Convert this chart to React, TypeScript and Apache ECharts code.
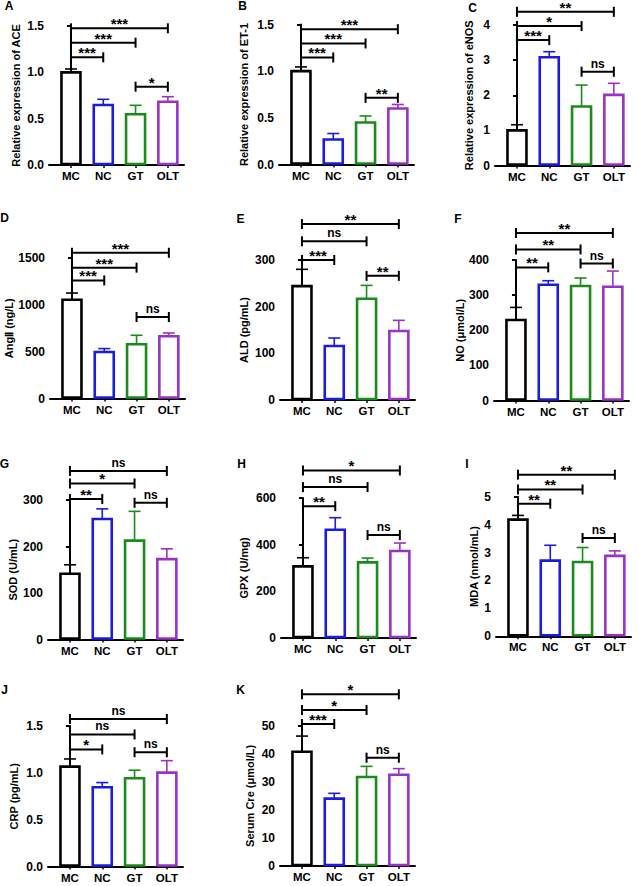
import React, { useEffect, useRef } from "react";
import * as echarts from "echarts";

const categories = ["MC", "NC", "GT", "OLT"];
const groupColors = ["#000000", "#1c1ce0", "#1b8c1b", "#9a32c6"];
const bracketPairs = [[0, 3], [0, 2], [0, 1], [2, 3]];

// A: ACE
const aceMean = [1.0, 0.647, 0.547, 0.683];
const aceSD = [0.036, 0.062, 0.097, 0.054];
const aceBrY = [1.475, 1.32, 1.162, 0.845];
const aceSig = ["***", "***", "***", "*"];
// B: ET-1
const et1Mean = [1.0, 0.268, 0.45, 0.6];
const et1SD = [0.046, 0.064, 0.07, 0.043];
const et1BrY = [1.45, 1.297, 1.147, 0.714];
const et1Sig = ["***", "***", "***", "**"];
// C: eNOS
const enosMean = [1.0, 3.08, 1.68, 2.01];
const enosSD = [0.16, 0.16, 0.61, 0.33];
const enosBrY = [4.375, 3.97, 3.57, 2.67];
const enosSig = ["**", "*", "***", "ns"];
// D: AngII
const angMean = [1055, 497, 579, 665];
const angSD = [71, 36, 96, 35];
const angBrY = [1556, 1397, 1261, 870];
const angSig = ["***", "***", "***", "ns"];
// E: ALD
const aldMean = [244, 115.6, 217, 147.8];
const aldSD = [36, 17.2, 28.6, 22.9];
const aldBrY = [377, 340, 300, 266];
const aldSig = ["**", "ns", "***", "**"];
// F: NO
const noMean = [229, 329.5, 326, 324];
const noSD = [36, 11.5, 22.6, 44.5];
const noBrY = [477, 430, 379, 390];
const noSig = ["**", "**", "**", "ns"];
// G: SOD
const sodMean = [141.3, 259, 212.6, 172.8];
const sodSD = [19.3, 22, 63, 22.2];
const sodBrY = [362.5, 335.5, 302, 294];
const sodSig = ["ns", "*", "**", "ns"];
// H: GPX
const gpxMean = [307, 464, 324, 372.6];
const gpxSD = [37, 51.6, 18.6, 34.4];
const gpxBrY = [718, 646.7, 565, 441];
const gpxSig = ["*", "ns", "**", "ns"];
// I: MDA
const mdaMean = [4.18, 2.71, 2.66, 2.88];
const mdaSD = [0.15, 0.55, 0.52, 0.18];
const mdaBrY = [5.79, 5.26, 4.75, 3.52];
const mdaSig = ["**", "**", "**", "ns"];
// J: CRP
const crpMean = [1.066, 0.846, 0.942, 1.002];
const crpSD = [0.082, 0.05, 0.086, 0.128];
const crpBrY = [1.575, 1.41, 1.25, 1.22];
const crpSig = ["ns", "ns", "*", "ns"];
// K: Serum Cre
const creMean = [40.7, 24.0, 31.7, 32.5];
const creSD = [5.6, 1.9, 3.8, 2.2];
const creBrY = [61.2, 55.6, 50.6, 38.6];
const creSig = ["*", "*", "***", "ns"];

const panels = [
  { letter: "A", title: "Relative expression of ACE", mean: aceMean, sd: aceSD, brY: aceBrY, sig: aceSig, max: 1.5, interval: 0.5, dec: 1 },
  { letter: "B", title: "Relative expression of ET-1", mean: et1Mean, sd: et1SD, brY: et1BrY, sig: et1Sig, max: 1.5, interval: 0.5, dec: 1 },
  { letter: "C", title: "Relative expression of eNOS", mean: enosMean, sd: enosSD, brY: enosBrY, sig: enosSig, max: 4, interval: 1, dec: 0 },
  { letter: "D", title: "AngⅡ (ng/L)", mean: angMean, sd: angSD, brY: angBrY, sig: angSig, max: 1500, interval: 500, dec: 0 },
  { letter: "E", title: "ALD (pg/mL)", mean: aldMean, sd: aldSD, brY: aldBrY, sig: aldSig, max: 300, interval: 100, dec: 0 },
  { letter: "F", title: "NO (μmol/L)", mean: noMean, sd: noSD, brY: noBrY, sig: noSig, max: 400, interval: 100, dec: 0 },
  { letter: "G", title: "SOD (U/mL)", mean: sodMean, sd: sodSD, brY: sodBrY, sig: sodSig, max: 300, interval: 100, dec: 0 },
  { letter: "H", title: "GPX (U/mg)", mean: gpxMean, sd: gpxSD, brY: gpxBrY, sig: gpxSig, max: 600, interval: 200, dec: 0 },
  { letter: "I", title: "MDA (nmol/mL)", mean: mdaMean, sd: mdaSD, brY: mdaBrY, sig: mdaSig, max: 5, interval: 1, dec: 0 },
  { letter: "J", title: "CRP (pg/mL)", mean: crpMean, sd: crpSD, brY: crpBrY, sig: crpSig, max: 1.5, interval: 0.5, dec: 1 },
  { letter: "K", title: "Serum Cre (μmol/L)", mean: creMean, sd: creSD, brY: creBrY, sig: creSig, max: 50, interval: 10, dec: 0 },
];

// layout: axis x, top px (max tick), bottom px (zero), nameGap, letter x, letter y
const layout = [
  { left: 49, top: 26, bottom: 165, gap: 28, lx: 9, ly: 6 },
  { left: 279, top: 24.5, bottom: 164.5, gap: 30, lx: 242.5, ly: 6 },
  { left: 495, top: 25, bottom: 165.5, gap: 21, lx: 472.5, ly: 7.5 },
  { left: 50, top: 258, bottom: 398.5, gap: 34, lx: 4.5, ly: 218 },
  { left: 280, top: 260, bottom: 400, gap: 31, lx: 240.5, ly: 219 },
  { left: 494, top: 260, bottom: 400.5, gap: 25, lx: 458, ly: 218.5 },
  { left: 48, top: 500, bottom: 639.5, gap: 30, lx: 4.5, ly: 464 },
  { left: 281, top: 498, bottom: 638, gap: 32, lx: 241.5, ly: 464 },
  { left: 496, top: 496.7, bottom: 636.3, gap: 17, lx: 467, ly: 464 },
  { left: 48, top: 726, bottom: 866.5, gap: 29, lx: 4.5, ly: 690 },
  { left: 280, top: 725.7, bottom: 866, gap: 25, lx: 240.5, ly: 690 },
];

const FONT = "'Liberation Sans', Arial, Helvetica, sans-serif";
const X_MIN = -0.68;
const X_MAX = 3.5;
const GRID_W = 135;
const BAR_W = 19;

function buildOption() {
  const grid: any[] = [];
  const xAxis: any[] = [];
  const yAxis: any[] = [];
  const series: any[] = [];
  const graphic: any[] = [];

  panels.forEach((p, k) => {
    const L = layout[k];
    grid.push({ left: L.left, top: L.top, width: GRID_W, height: L.bottom - L.top, containLabel: false });
    xAxis.push({
      type: "value",
      gridIndex: k,
      min: X_MIN,
      max: X_MAX,
      splitLine: { show: false },
      axisLine: { show: true, lineStyle: { color: "#000", width: 2 } },
      axisTick: { show: true, customValues: [0, 1, 2, 3], length: 3, lineStyle: { color: "#000", width: 1.5 } },
      axisLabel: {
        show: true,
        customValues: [0, 1, 2, 3],
        formatter: (v: number) => categories[Math.round(v)] ?? "",
        color: "#000",
        fontFamily: FONT,
        fontWeight: "bold",
        fontSize: 11.5,
        margin: 5,
      },
    });
    yAxis.push({
      type: "value",
      gridIndex: k,
      min: 0,
      max: p.max,
      interval: p.interval,
      name: p.title,
      nameLocation: "middle",
      nameGap: L.gap,
      nameTextStyle: { color: "#000", fontFamily: FONT, fontWeight: "bold", fontSize: 11 },
      splitLine: { show: false },
      axisLine: { show: true, lineStyle: { color: "#000", width: 2 } },
      axisTick: { show: true, length: 4, lineStyle: { color: "#000", width: 2 } },
      axisLabel: {
        color: "#000",
        fontFamily: FONT,
        fontWeight: "bold",
        fontSize: 12,
        margin: 5,
        formatter: (v: number) => (p.dec ? v.toFixed(p.dec) : String(v)),
      },
    });

    // bars + error bars (mean, upper SD) drawn through the cartesian coordinate system
    series.push({
      type: "custom",
      name: p.title,
      xAxisIndex: k,
      yAxisIndex: k,
      clip: false,
      z: 3,
      data: p.mean.map((v, i) => [i, v, v + p.sd[i]]),
      renderItem: (params: any, api: any) => {
        const x = api.value(0);
        const m = api.value(1);
        const t = api.value(2);
        const p0 = api.coord([x, m]);
        const p1 = api.coord([x, t]);
        const pz = api.coord([x, 0]);
        const c = groupColors[params.dataIndex];
        return {
          type: "group",
          children: [
            { type: "line", shape: { x1: p0[0], y1: p0[1], x2: p1[0], y2: p1[1] }, style: { stroke: c, lineWidth: 1.6 } },
            { type: "line", shape: { x1: p1[0] - 6, y1: p1[1], x2: p1[0] + 6, y2: p1[1] }, style: { stroke: c, lineWidth: 1.6 } },
            {
              type: "rect",
              shape: { x: p0[0] - BAR_W / 2, y: p0[1], width: BAR_W, height: pz[1] - p0[1] - 1 },
              style: { fill: "#ffffff", stroke: c, lineWidth: 2.6 },
            },
          ],
        };
      },
    });

    series.push({
      type: "custom",
      xAxisIndex: k,
      yAxisIndex: k,
      clip: false,
      z: 4,
      data: bracketPairs.map((pr, j) => [pr[0], pr[1], p.brY[j]]),
      renderItem: (params: any, api: any) => {
        const a = api.coord([api.value(0), api.value(2)]);
        const b = api.coord([api.value(1), api.value(2)]);
        const lab = p.sig[params.dataIndex];
        const stars = lab.indexOf("*") >= 0;
        const mid = (a[0] + b[0]) / 2;
        return {
          type: "group",
          children: [
            { type: "line", shape: { x1: a[0], y1: a[1], x2: b[0], y2: b[1] }, style: { stroke: "#000", lineWidth: 2 } },
            { type: "line", shape: { x1: a[0], y1: a[1] - 5, x2: a[0], y2: a[1] + 5 }, style: { stroke: "#000", lineWidth: 2 } },
            { type: "line", shape: { x1: b[0], y1: b[1] - 5, x2: b[0], y2: b[1] + 5 }, style: { stroke: "#000", lineWidth: 2 } },
            {
              type: "text",
              x: mid,
              y: stars ? a[1] + 3 : a[1] - 2,
              style: {
                text: lab,
                fill: "#000",
                font: `bold ${stars ? 15 : 12}px ${FONT}`,
                textAlign: "center",
                textVerticalAlign: "bottom",
                align: "center",
                verticalAlign: "bottom",
              },
            },
          ],
        };
      },
    });

    graphic.push({
      type: "text",
      x: L.lx,
      y: L.ly,
      style: {
        text: p.letter,
        fill: "#000",
        font: `bold 12px ${FONT}`,
        textAlign: "center",
        textVerticalAlign: "middle",
        align: "center",
        verticalAlign: "middle",
      },
    });
  });

  return {
    animation: false,
    backgroundColor: "#ffffff",
    grid,
    xAxis,
    yAxis,
    series,
    graphic,
  };
}

export default function App() {
  const ref = useRef<HTMLDivElement>(null);
  useEffect(() => {
    if (!ref.current) return;
    const chart = echarts.init(ref.current, undefined, { renderer: "svg" });
    chart.setOption(buildOption() as any);
    return () => chart.dispose();
  }, []);
  return (
    <div
      ref={ref}
      style={{ position: "absolute", left: 0, top: 0, width: 639, height: 886, background: "#fff" }}
    />
  );
}
